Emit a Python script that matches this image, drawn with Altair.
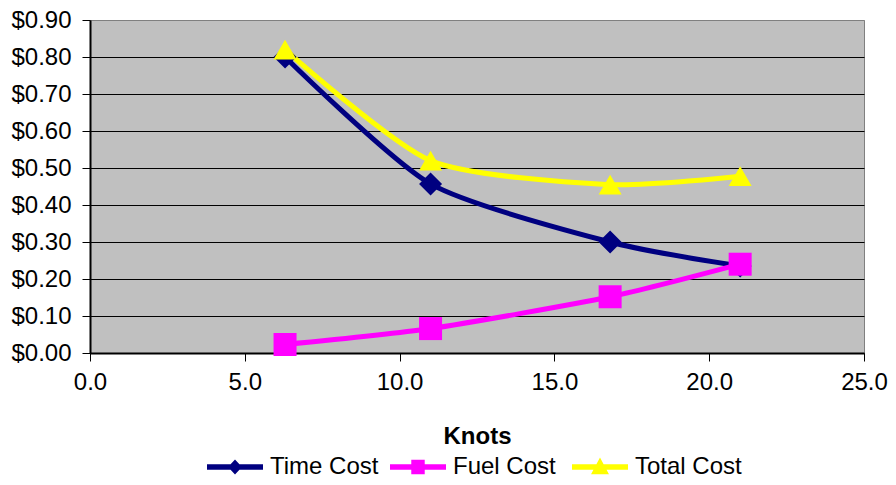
import altair as alt
import pandas as pd

# ---- data ----
knots = [6.3, 11.0, 16.8, 21.0]
time_cost = [0.80, 0.457, 0.30, 0.235]
fuel_cost = [0.023, 0.066, 0.152, 0.24]
total_cost = [0.82, 0.52, 0.455, 0.478]

series_names = ["Time Cost", "Fuel Cost", "Total Cost"]
series_colors = ["#000080", "#FF00FF", "#FFFF00"]
series_shapes = ["diamond", "square", "triangle-up"]

x_ticks = [0, 5, 10, 15, 20, 25]
y_ticks = [0.0, 0.1, 0.2, 0.3, 0.4, 0.5, 0.6, 0.7, 0.8, 0.9]

rows = []
for name, vals in zip(series_names, [time_cost, fuel_cost, total_cost]):
    for k, v in zip(knots, vals):
        rows.append({"series": name, "knots": k, "cost": v})
df = pd.DataFrame(rows)

FONT = "Liberation Sans"

# legend symbols: line + marker as one custom path (unit box -1..1)
legend_paths = [
    "M-1,-0.1H1V0.1H-1Z M0,-0.27L0.25,0L0,0.27L-0.25,0Z",
    "M-1,-0.1H1V0.1H-1Z M-0.24,-0.26H0.24V0.26H-0.24Z",
    "M-1,-0.1H1V0.1H-1Z M0,-0.34L0.32,0.26L-0.32,0.26Z",
]
legend_x = [117, 300, 482]
LEGEND_Y = 419

x = alt.X(
    "knots:Q",
    scale=alt.Scale(domain=[0, 25], nice=False, zero=False),
    axis=alt.Axis(
        values=x_ticks,
        format=".1f",
        title="Knots",
        titleFont=FONT,
        titleFontSize=24,
        titleFontWeight="bold",
        titleColor="#000000",
        titleBaseline="alphabetic",
        titleY=90,
        labelFont=FONT,
        labelFontSize=24,
        labelColor="#000000",
        labelBaseline="alphabetic",
        labelPadding=28,
        labelFlush=False,
        tickSize=8,
        tickColor="#000000",
        domainColor="#000000",
        domainWidth=2,
        grid=False,
    ),
)

y = alt.Y(
    "cost:Q",
    scale=alt.Scale(domain=[0, 0.9], nice=False, zero=True),
    axis=alt.Axis(
        values=y_ticks,
        format="$.2f",
        title=None,
        labelFont=FONT,
        labelFontSize=24,
        labelColor="#000000",
        labelPadding=11,
        labelFlush=False,
        tickSize=8,
        tickColor="#000000",
        domainColor="#000000",
        domainWidth=2,
        grid=True,
        gridColor=alt.condition("datum.value > 0.85", alt.value("#808080"), alt.value("#000000")),
        gridWidth=1,
    ),
)

color = alt.Color(
    "series:N",
    scale=alt.Scale(domain=series_names, range=series_colors),
    legend=None,
)

lines = alt.Chart(df).mark_line(
    interpolate="cardinal", tension=0.3, strokeWidth=5
).encode(x=x, y=y, color=color)

points = alt.Chart(df).mark_point(
    filled=True, size=529, opacity=1
).encode(
    x=x,
    y=y,
    color=color,
    shape=alt.Shape(
        "series:N",
        scale=alt.Scale(domain=series_names, range=series_shapes),
        legend=None,
    ),
)

# one legend per series (empty data, legend entry comes from the scale domain)
legend_layers = []
for name, col, path, lx in zip(series_names, series_colors, legend_paths, legend_x):
    lg = alt.Legend(
        orient="none",
        legendX=lx,
        legendY=LEGEND_Y,
        direction="horizontal",
        title=None,
        padding=0,
        labelFont=FONT,
        labelFontSize=24,
        labelColor="#000000",
        labelLimit=400,
        labelOffset=7,
        symbolType=path,
        symbolSize=3136,
        symbolStrokeWidth=0,
        symbolOpacity=1,
    )
    layer = (
        alt.Chart(df)
        .transform_filter("false")
        .mark_point(filled=True, opacity=1)
        .encode(
            x=x,
            y=y,
            color=alt.Color(
                "series:N",
                scale=alt.Scale(domain=[name], range=[col]),
                legend=lg,
            ),
        )
    )
    legend_layers.append(layer)

chart = (
    alt.layer(lines, points, *legend_layers)
    .resolve_scale(color="independent")
    .resolve_legend(color="independent")
    .properties(
        width=774,
        height=333,
        autosize=alt.AutoSizeParams(type="none"),
        padding={"left": 82, "top": 12, "right": 24, "bottom": 124},
        background="#FFFFFF",
    )
    .configure_view(fill="#C0C0C0", stroke="#808080", strokeWidth=1)
)

chart.save("out.html", embed_options={"renderer": "svg", "actions": False})
